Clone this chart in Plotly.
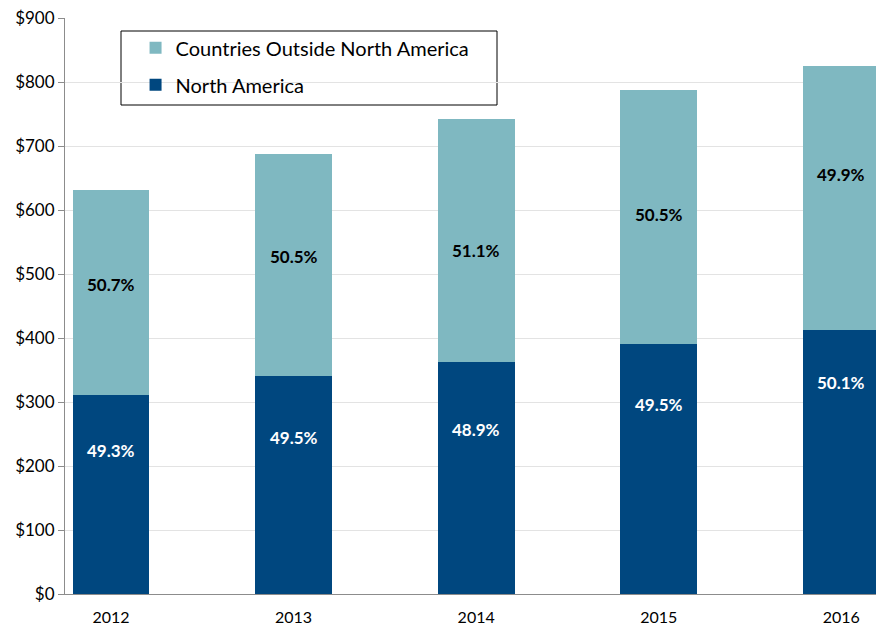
import plotly.graph_objects as go

# Revenue by region (in $ millions)
years = [2012, 2013, 2014, 2015, 2016]
north_america = [311, 340, 363, 390, 413]
outside_na = [320, 347, 379, 398, 412]
y_ticks = [0, 100, 200, 300, 400, 500, 600, 700, 800, 900]
y_tick_text = ["$" + str(v) for v in y_ticks]

# where each percentage label sits inside its segment (0 = bottom, 1 = top)
na_label_at = [0.72, 0.72, 0.71, 0.76, 0.80]
out_label_at = [0.54, 0.54, 0.46, 0.51, 0.59]

DARK = "#00477F"
LIGHT = "#7FB8C1"
FONT = "Lato, 'Open Sans', sans-serif"

fig = go.Figure()
fig.add_trace(go.Bar(
    x=years, y=north_america, name="North America",
    marker=dict(color=DARK, line=dict(width=0)), width=0.42,
    legendgroup="na", legendrank=2,
))
fig.add_trace(go.Bar(
    x=years, y=outside_na, name="Countries Outside North America",
    marker=dict(color=LIGHT, line=dict(width=0)), width=0.42,
    legendgroup="out", legendrank=1,
))

annotations = []
for yr, na, out, fa, fo in zip(years, north_america, outside_na, na_label_at, out_label_at):
    total = na + out
    annotations.append(dict(
        x=yr, y=na * fa, text=f"{100 * na / total:.1f}%", showarrow=False,
        font=dict(family=FONT, size=17, color="white", weight="bold"),
    ))
    annotations.append(dict(
        x=yr, y=na + out * fo, text=f"{100 * out / total:.1f}%", showarrow=False,
        font=dict(family=FONT, size=17, color="black", weight="bold"),
    ))

fig.update_layout(
    width=876, height=629,
    margin=dict(l=65, r=0, t=18, b=35, autoexpand=False),
    barmode="stack",
    plot_bgcolor="white", paper_bgcolor="white",
    font=dict(family=FONT, size=16, color="black"),
    annotations=annotations,
    showlegend=True,
    legend=dict(
        x=0.087, y=0.982, xanchor="left", yanchor="top",
        traceorder="grouped", tracegroupgap=8,
        font=dict(family=FONT, size=20, color="black"),
        bgcolor="rgba(0,0,0,0)", borderwidth=0,
    ),
    shapes=[dict(
        type="rect", xref="paper", yref="paper",
        x0=(121 - 65) / 811, x1=(497 - 65) / 811,
        y0=(594 - 105) / 576, y1=(594 - 31) / 576,
        line=dict(color="black", width=1), fillcolor="white", layer="below",
    )],
    xaxis=dict(
        range=[2011.748, 2016.19], tickvals=years, ticktext=[str(y) for y in years],
        showgrid=False, zeroline=False, showline=True, linecolor="#8C8C8C", linewidth=1,
        ticks="", ticklabelstandoff=9, tickfont=dict(size=16), fixedrange=True,
        automargin=False,
    ),
    yaxis=dict(
        range=[0, 900], tickvals=y_ticks, ticktext=y_tick_text,
        showgrid=True, gridcolor="#E3E3E3", gridwidth=1, zeroline=False,
        showline=True, linecolor="#8C8C8C", linewidth=1,
        ticks="outside", ticklen=6, tickcolor="#8C8C8C",
        tickfont=dict(size=17), fixedrange=True, automargin=False,
    ),
)

fig.write_html("out.html")
